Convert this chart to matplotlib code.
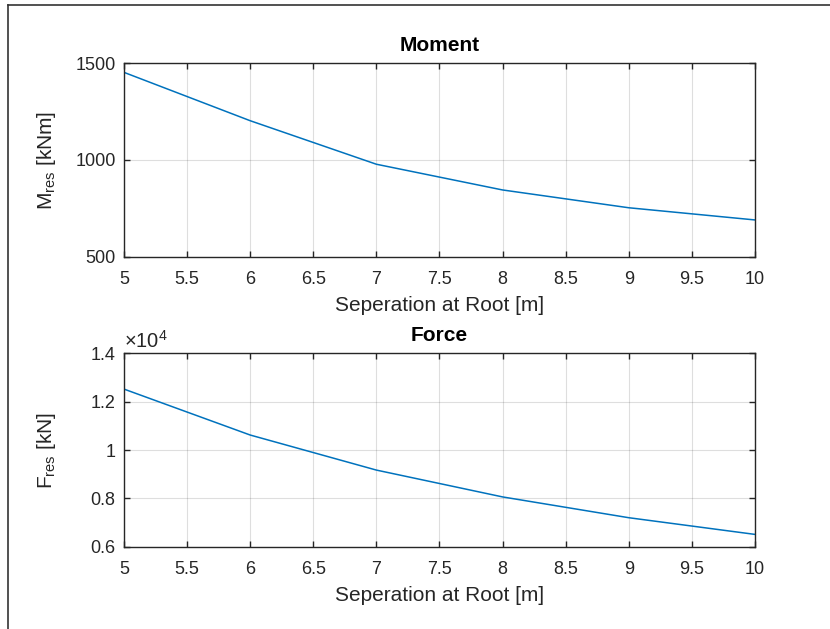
import matplotlib
import matplotlib.pyplot as plt
from matplotlib.lines import Line2D
from matplotlib.ticker import FuncFormatter

matplotlib.rcParams['font.family'] = ['Liberation Sans', 'DejaVu Sans']
matplotlib.rcParams['mathtext.fontset'] = 'custom'
matplotlib.rcParams['mathtext.rm'] = 'Liberation Sans'
matplotlib.rcParams['mathtext.it'] = 'Liberation Sans'
matplotlib.rcParams['axes.edgecolor'] = '#262626'
matplotlib.rcParams['axes.linewidth'] = 1.0
matplotlib.rcParams['xtick.color'] = '#262626'
matplotlib.rcParams['ytick.color'] = '#262626'
matplotlib.rcParams['axes.labelcolor'] = '#262626'

# separation at root [m]
separation = [5, 6, 7, 8, 9, 10]
# resultant moment [kNm]
moment = [1453, 1203, 978, 845, 753, 690]
# resultant force [kN]
force = [12520, 10620, 9170, 8060, 7200, 6510]

x_ticks = [5, 5.5, 6, 6.5, 7, 7.5, 8, 8.5, 9, 9.5, 10]
m_ticks = [500, 1000, 1500]
f_ticks = [6000, 8000, 10000, 12000, 14000]

line_col = '#0072BD'
tick_fs = 13
label_fs = 15


def style_ax(ax):
    ax.grid(True, color='#000000', alpha=0.13, linewidth=0.8)
    ax.set_axisbelow(True)
    ax.tick_params(direction='in', length=4, width=1.0, top=True, right=True,
                   labelsize=tick_fs)
    ax.tick_params(axis='x', pad=10)
    ax.tick_params(axis='y', pad=6)
    ax.yaxis.set_label_coords(-0.104, 0.5)


fig = plt.figure(figsize=(8.3, 6.29), dpi=100)

# frame of the screenshot
fig.add_artist(Line2D([8 / 830, 1], [1 - 4.5 / 629] * 2, color='#333333', lw=1.2))
fig.add_artist(Line2D([8 / 830] * 2, [0, 1 - 4.5 / 629], color='#333333', lw=1.2))

ax1 = fig.add_axes([0.1494, 0.5919, 0.7602, 0.3075])
ax1.plot(separation, moment, color=line_col, linewidth=1.1)
ax1.set_xlim(5, 10)
ax1.set_ylim(500, 1500)
ax1.set_xticks(x_ticks)
ax1.set_yticks(m_ticks)
ax1.xaxis.set_major_formatter(FuncFormatter(lambda v, p: '%g' % v))
ax1.set_xlabel('Seperation at Root [m]', fontsize=label_fs, labelpad=6)
ax1.set_ylabel(r'$\mathrm{M_{res}}$ [kNm]', fontsize=label_fs)
ax1.set_title('Moment', fontsize=label_fs, fontweight='bold', pad=9)
style_ax(ax1)

ax2 = fig.add_axes([0.1494, 0.1308, 0.7602, 0.3075])
ax2.plot(separation, force, color=line_col, linewidth=1.1)
ax2.set_xlim(5, 10)
ax2.set_ylim(6000, 14000)
ax2.set_xticks(x_ticks)
ax2.set_yticks(f_ticks)
ax2.xaxis.set_major_formatter(FuncFormatter(lambda v, p: '%g' % v))
ax2.yaxis.set_major_formatter(FuncFormatter(lambda v, p: '%g' % (v / 1e4)))
ax2.set_xlabel('Seperation at Root [m]', fontsize=label_fs, labelpad=6)
ax2.set_ylabel(r'$\mathrm{F_{res}}$ [kN]', fontsize=label_fs)
ax2.set_title('Force', fontsize=label_fs, fontweight='bold', pad=9)
ax2.text(0.0, 1.01, r'$\times\mathrm{10^{4}}$', transform=ax2.transAxes,
         fontsize=14.5, color='#262626', ha='left', va='bottom')
style_ax(ax2)

fig.savefig('out.png', dpi=100)
